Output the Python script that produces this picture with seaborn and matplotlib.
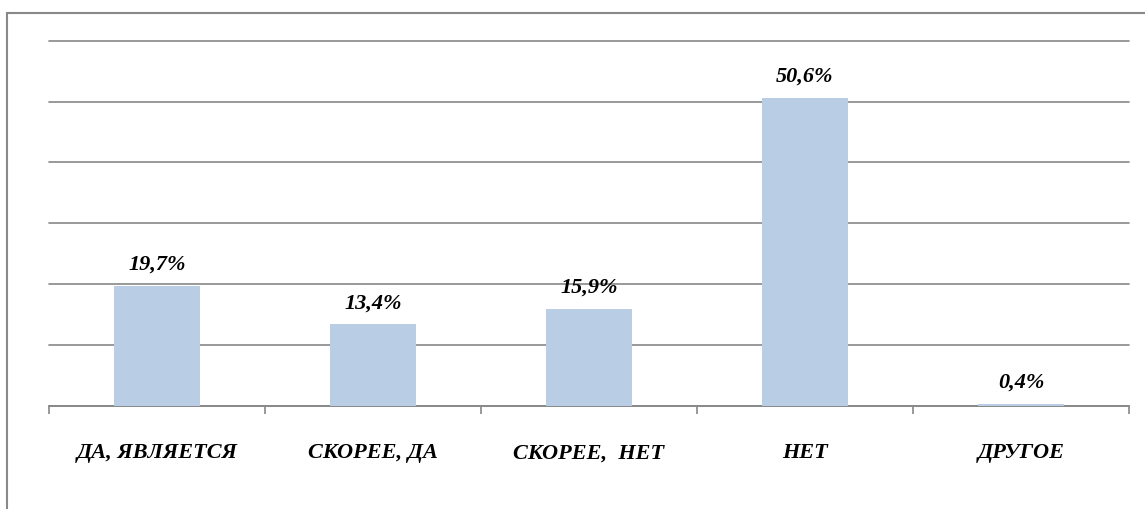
import matplotlib
matplotlib.use("Agg")
import matplotlib.pyplot as plt
import seaborn as sns
import pandas as pd
import numpy as np
from matplotlib.patches import Rectangle

categories = ["ДА, ЯВЛЯЕТСЯ", "СКОРЕЕ, ДА", "СКОРЕЕ,  НЕТ", "НЕТ", "ДРУГОЕ"]
values = [19.7, 13.4, 15.9, 50.6, 0.4]
value_labels = ["19,7%", "13,4%", "15,9%", "50,6%", "0,4%"]

sns.set_theme(style="white")
plt.rcParams['font.family'] = ['Liberation Serif', 'DejaVu Serif']
plt.rcParams['text.color'] = 'black'
plt.rcParams['xtick.color'] = 'black'

df = pd.DataFrame({"cat": categories, "val": values})

fig = plt.figure(figsize=(11.45, 5.10), dpi=100)
ax = fig.add_axes([49/1145, 1 - 407/510, (1129 - 49)/1145, (407 - 41.6)/510])

sns.barplot(data=df, x="cat", y="val", color="#B9CDE5", saturation=1, width=0.4,
            ax=ax, zorder=3, edgecolor="none", linewidth=0)

ax.set_xlim(-0.5, 4.5)
ax.set_ylim(0, 60)
ax.set_yticks(np.arange(0, 61, 10))
ax.yaxis.grid(True, color="#878787", linewidth=1.2, zorder=0)
for gl in ax.yaxis.get_gridlines():
    gl.set_clip_on(False)
ax.set_axisbelow(True)
ax.tick_params(axis="y", left=False, labelleft=False)
for s in ["top", "right", "left"]:
    ax.spines[s].set_visible(False)
ax.spines["bottom"].set_color("#878787")
ax.spines["bottom"].set_linewidth(1.2)
ax.set_xlabel("")
ax.set_ylabel("")

ax.set_xticks(range(len(categories)))
ax.set_xticklabels(categories, fontsize=16, fontweight="bold", fontstyle="italic", color="black")
ax.tick_params(axis="x", which="major", bottom=True, length=0, pad=26)
ax.set_xticks(np.arange(-0.5, len(categories), 1), minor=True)
ax.tick_params(axis="x", which="minor", bottom=True, length=6, width=1.2,
               color="#878787", direction="out")

for i, (v, lab) in enumerate(zip(values, value_labels)):
    ax.annotate(lab, (i, v), xytext=(0, 16), textcoords="offset points",
                ha="center", va="center", fontsize=16, fontweight="bold",
                fontstyle="italic", color="black")

fig.patches.append(Rectangle((7/1145, -0.05), 1.2, 1 - 14/510 + 0.05,
                             transform=fig.transFigure, fill=False,
                             edgecolor="#888888", linewidth=1.5))

fig.savefig("out.png", dpi=100)
